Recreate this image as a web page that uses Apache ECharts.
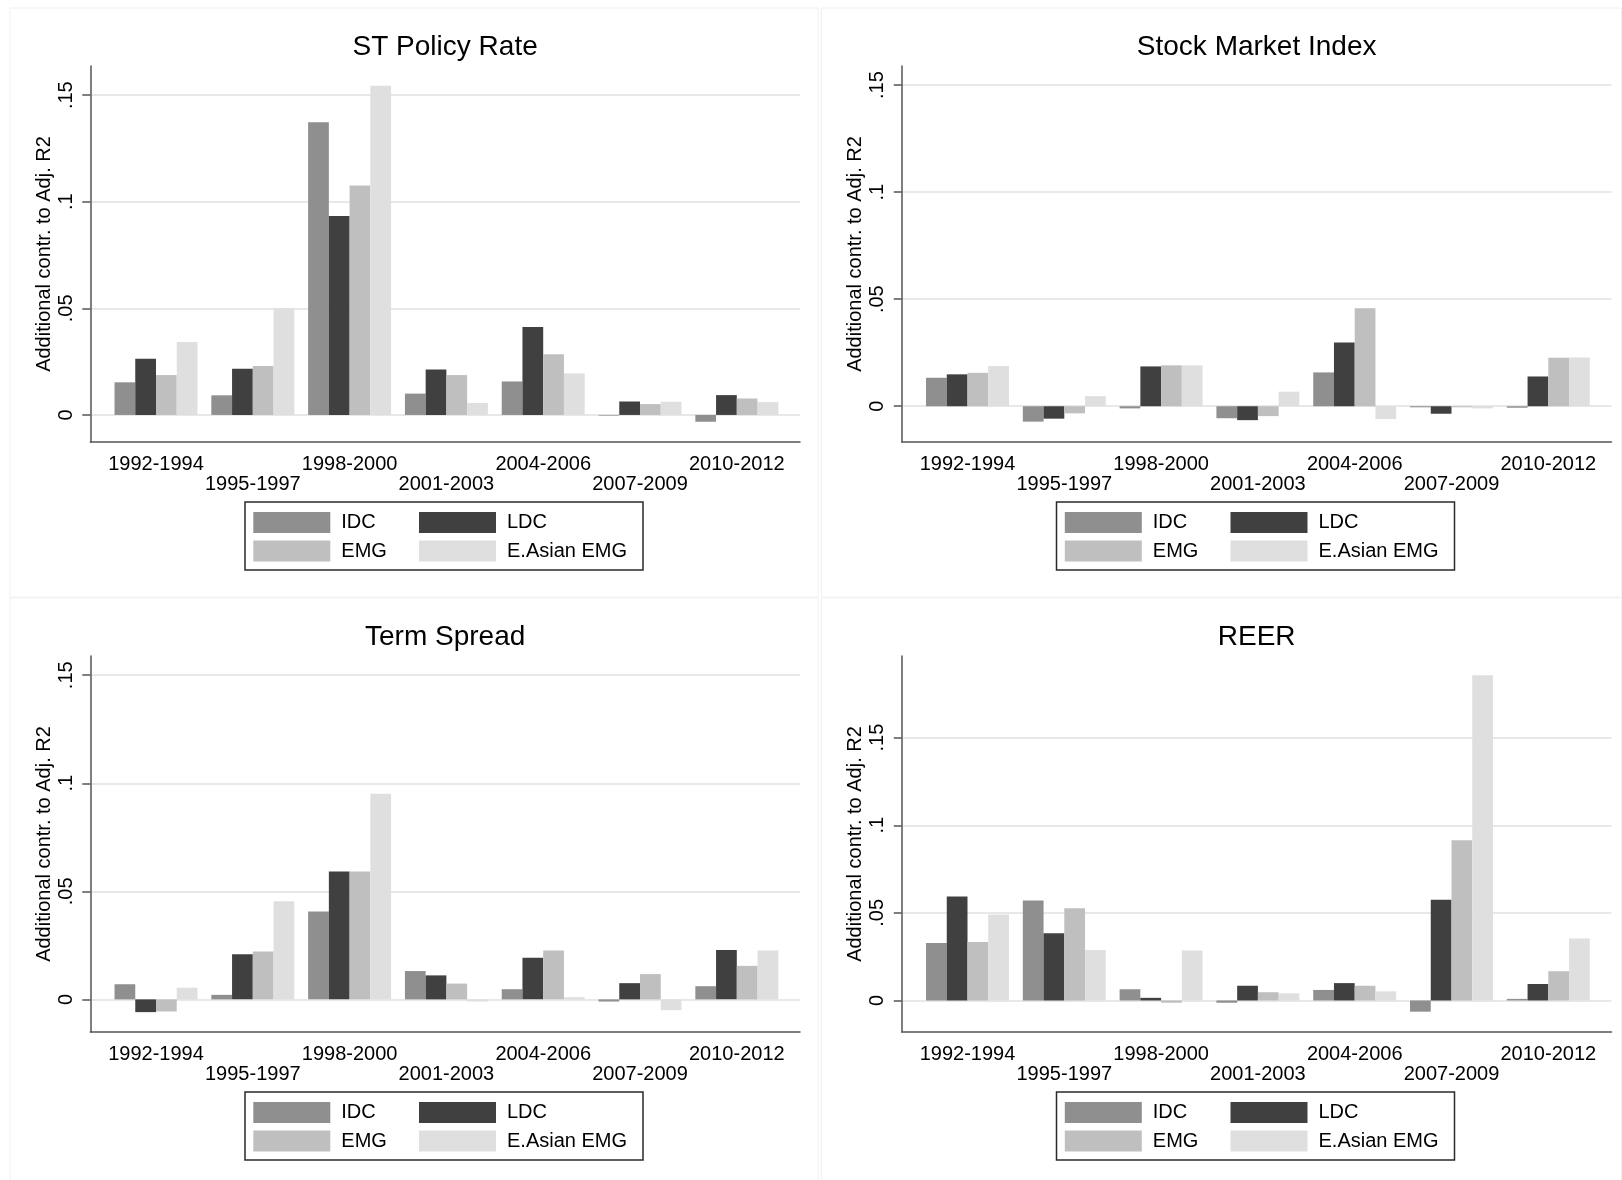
<!DOCTYPE html>
<html><head><meta charset="utf-8">
<script src="https://cdn.jsdelivr.net/npm/echarts@6/dist/echarts.min.js"></script>
<style>html,body{margin:0;padding:0;background:#fff}#c{width:1622px;height:1180px}</style>
</head><body><div id="c"></div><script>
const periods = ['1992-1994','1995-1997','1998-2000','2001-2003','2004-2006','2007-2009','2010-2012'];
const seriesNames = ['IDC','LDC','EMG','E.Asian EMG'];
const panelTitles = ['ST Policy Rate','Stock Market Index','Term Spread','REER'];
const yAxisTitle = 'Additional contr. to Adj. R2';
const yTicks = [0, 0.05, 0.1, 0.15];

const policyIDC = [0.0153, 0.0092, 0.1373, 0.0100, 0.0157, -0.0003, -0.0032];
const policyLDC = [0.0264, 0.0217, 0.0933, 0.0213, 0.0412, 0.0063, 0.0093];
const policyEMG = [0.0187, 0.0229, 0.1076, 0.0187, 0.0285, 0.0051, 0.0077];
const policyEA  = [0.0342, 0.0500, 0.1544, 0.0056, 0.0195, 0.0062, 0.0060];
const policyRange = [-0.0127, 0.1637];

const stockIDC = [0.0133, -0.0072, -0.0010, -0.0056, 0.0158, -0.0005, -0.0007];
const stockLDC = [0.0149, -0.0058, 0.0186, -0.0065, 0.0298, -0.0035, 0.0139];
const stockEMG = [0.0156, -0.0033, 0.0191, -0.0046, 0.0458, -0.0005, 0.0226];
const stockEA  = [0.0188, 0.0047, 0.0191, 0.0068, -0.0060, -0.0010, 0.0228];
const stockRange = [-0.0167, 0.1589];

const termIDC = [0.0070, 0.0021, 0.0407, 0.0131, 0.0047, -0.0010, 0.0061];
const termLDC = [-0.0059, 0.0209, 0.0592, 0.0111, 0.0193, 0.0075, 0.0228];
const termEMG = [-0.0056, 0.0221, 0.0592, 0.0073, 0.0226, 0.0117, 0.0155];
const termEA  = [0.0054, 0.0454, 0.0952, -0.0010, 0.0010, -0.0050, 0.0226];
const termRange = [-0.0151, 0.1589];

const reerIDC = [0.0328, 0.0571, 0.0064, -0.0013, 0.0060, -0.0064, 0.0009];
const reerLDC = [0.0594, 0.0384, 0.0015, 0.0084, 0.0099, 0.0575, 0.0094];
const reerEMG = [0.0333, 0.0526, -0.0013, 0.0047, 0.0084, 0.0914, 0.0167];
const reerEA  = [0.0491, 0.0288, 0.0285, 0.0041, 0.0052, 0.1856, 0.0354];
const reerRange = [-0.0180, 0.1966];

const panels = [
  {title: panelTitles[0], range: policyRange, values: [policyIDC, policyLDC, policyEMG, policyEA]},
  {title: panelTitles[1], range: stockRange, values: [stockIDC, stockLDC, stockEMG, stockEA]},
  {title: panelTitles[2], range: termRange, values: [termIDC, termLDC, termEMG, termEA]},
  {title: panelTitles[3], range: reerRange, values: [reerIDC, reerLDC, reerEMG, reerEA]}
];
const colors = ['#8f8f8f', '#404040', '#bfbfbf', '#dfdfdf'];
const FONT = '"Liberation Sans", Arial, Helvetica, sans-serif';
const AXC = '#555555';

const grid = [], xAxis = [], yAxis = [], series = [], title = [], legend = [], graphic = [];
panels.forEach((p, i) => {
  const ox = (i % 2) * 811.5, oy = Math.floor(i / 2) * 590;
  grid.push({left: 90.3 + ox, top: 66 + oy, width: 709.7, height: 376});
  grid.push({left: 107.6 + ox, top: 66 + oy, width: 677.6, height: 376});
  const gA = 2 * i, gB = 2 * i + 1;
  xAxis.push({gridIndex: gA, type: 'value', min: 0, max: 1,
    axisLine: {show: true, onZero: false, lineStyle: {color: AXC, width: 1.5}},
    axisTick: {show: false}, axisLabel: {show: false}, splitLine: {show: false}});
  xAxis.push({gridIndex: gB, type: 'category', data: periods,
    axisLine: {show: false, onZero: false}, axisTick: {show: false}, splitLine: {show: false},
    axisLabel: {interval: 0, margin: 12, fontSize: 20, lineHeight: 20, color: '#000', fontFamily: FONT,
      formatter: (v, idx) => (idx % 2 ? '\n' + v : v)}});
  yAxis.push({gridIndex: gA, type: 'value', min: p.range[0], max: p.range[1],
    name: yAxisTitle, nameLocation: 'middle', nameGap: 36,
    nameTextStyle: {fontSize: 20, color: '#000', fontFamily: FONT},
    axisLine: {show: true, onZero: false, lineStyle: {color: AXC, width: 1.5}},
    axisTick: {show: true, length: 8, customValues: yTicks, lineStyle: {color: AXC, width: 1.5}},
    axisLabel: {customValues: yTicks, rotate: 90, margin: 14, fontSize: 20, color: '#000', fontFamily: FONT,
      formatter: v => (v === 0 ? '0' : String(v).replace(/^0/, ''))},
    splitLine: {show: true, lineStyle: {color: '#e8e8e8', width: 2}}});
  yAxis.push({gridIndex: gB, type: 'value', min: p.range[0], max: p.range[1], show: false, splitLine: {show: false}});
  p.values.forEach((vals, k) => {
    series.push({type: 'bar', name: seriesNames[k], xAxisIndex: gB, yAxisIndex: gB, data: vals,
      barGap: '0%', barCategoryGap: '14.3%', itemStyle: {color: colors[k]}, animation: false});
  });
  title.push({text: p.title, left: 445.15 + ox, top: 33 + oy, textAlign: 'center', padding: 0,
    textStyle: {fontSize: 28, fontWeight: 'normal', color: '#000', fontFamily: FONT}});
  const legCommon = {top: 512 + oy, orient: 'vertical', padding: 0, itemGap: 7.5, itemWidth: 77, itemHeight: 21,
    icon: 'rect', selectedMode: false,
    textStyle: {fontSize: 20, color: '#000', fontFamily: FONT, padding: [0, 0, 0, 6]}};
  legend.push(Object.assign({left: 253.3 + ox, data: [seriesNames[0], seriesNames[2]]}, legCommon));
  legend.push(Object.assign({left: 419 + ox, data: [seriesNames[1], seriesNames[3]]}, legCommon));
  graphic.push({type: 'rect', silent: true, z: 5,
    shape: {x: 245 + ox, y: 502 + oy, width: 398, height: 68},
    style: {fill: null, stroke: '#2a2a2a', lineWidth: 1.5}});
  graphic.push({type: 'rect', silent: true, z: -10,
    shape: {x: (i % 2 ? 821.5 : 10), y: 8 + oy, width: (i % 2 ? 800 : 808), height: 589},
    style: {fill: null, stroke: '#f0f0f0', lineWidth: 1}});
});

const chart = echarts.init(document.getElementById('c'), null, {renderer: 'canvas'});
chart.setOption({backgroundColor: '#fff', animation: false, textStyle: {fontFamily: FONT},
  grid, xAxis, yAxis, series, title, legend, graphic});
</script></body></html>
